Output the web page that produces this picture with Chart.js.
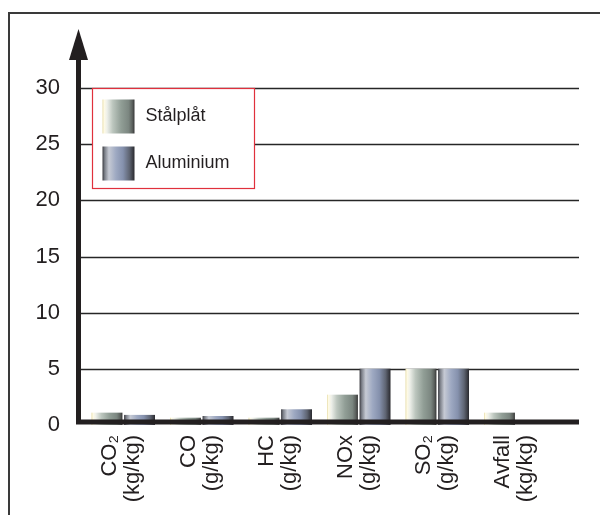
<!DOCTYPE html>
<html>
<head>
<meta charset="utf-8">
<script src="https://cdn.jsdelivr.net/npm/chart.js@4.4.1/dist/chart.umd.min.js"></script>
<style>
  body { margin: 0; background: #fff; }
  #wrap { position: relative; width: 600px; height: 515px; overflow: hidden; }
  #frame { position: absolute; left: 8px; top: 12px; width: 700px; height: 600px;
           border-top: 2px solid #3a3a3a; border-left: 2px solid #3a3a3a; }
  #chart { position: absolute; left: 0; top: 0; }
</style>
</head>
<body>
<div id="wrap">
  <div id="frame"></div>
  <canvas id="chart" width="600" height="515"></canvas>
</div>
<script>
// Data
const categories = [
  ['CO₂', '(kg/kg)'],
  ['CO', '(g/kg)'],
  ['HC', '(g/kg)'],
  ['NOx', '(g/kg)'],
  ['SO₂', '(g/kg)'],
  ['Avfall', '(kg/kg)']
];
const seriesNames = ['Stålplåt', 'Aluminium'];
const stalplat = [1.1, 0.65, 0.65, 2.7, 5, 1.1];
const aluminium = [0.9, 0.8, 1.4, 5, 5, 0];
const yTicks = [0, 5, 10, 15, 20, 25, 30];

const FONT = "'Liberation Sans', Arial, Helvetica, sans-serif";
Chart.defaults.font.family = FONT;
Chart.defaults.color = '#231f20';

// horizontal "metal" gradients for bars and legend swatches
const gradStops = [
  [[0, '#e6dca8'], [0.05, '#fffbe6'], [0.14, '#eef0ea'], [0.32, '#bcc6be'],
   [0.58, '#919e96'], [0.82, '#7b8680'], [0.93, '#5b605d'], [1, '#363636']],
  [[0, '#3a3a40'], [0.07, '#7c8089'], [0.2, '#c6cad4'], [0.42, '#9ea9c2'],
   [0.64, '#8591ad'], [0.84, '#5f6573'], [1, '#29292e']]
];
function metal(ctx, i, x0, x1) {
  const g = ctx.createLinearGradient(x0, 0, x1, 0);
  gradStops[i].forEach(s => g.addColorStop(s[0], s[1]));
  return g;
}

const decor = {
  id: 'decor',
  beforeDatasetsDraw(chart) {
    const ctx = chart.ctx;
    const y = chart.scales.y, area = chart.chartArea;
    // grid lines
    ctx.save();
    ctx.strokeStyle = '#262626';
    ctx.lineWidth = 1.3;
    yTicks.forEach(v => {
      if (v === 0) return;
      const py = Math.round(y.getPixelForValue(v)) + 0.5;
      ctx.beginPath();
      ctx.moveTo(area.left - 4, py);
      ctx.lineTo(area.right + 24, py);
      ctx.stroke();
    });
    ctx.restore();
    // bar gradients (each bar has its own options object)
    chart.data.datasets.forEach((ds, i) => {
      chart.getDatasetMeta(i).data.forEach(el => {
        el.options.backgroundColor = metal(ctx, i, el.x - el.width / 2, el.x + el.width / 2);
      });
    });
  },
  afterDatasetsDraw(chart) {
    const ctx = chart.ctx;
    const y = chart.scales.y, area = chart.chartArea;
    const ax = area.left - 5.5;
    const base = y.getPixelForValue(0) - 3;
    ctx.save();
    ctx.fillStyle = '#231f20';
    // x baseline
    ctx.fillRect(area.left - 8, base - 2.5, area.right - area.left + 32, 5);
    // y axis with arrow
    ctx.fillRect(ax - 2.5, area.top - 28, 5, base - area.top + 30);
    ctx.beginPath();
    ctx.moveTo(ax, area.top - 59);
    ctx.lineTo(ax + 9.5, area.top - 28);
    ctx.lineTo(ax - 9.5, area.top - 28);
    ctx.closePath();
    ctx.fill();
    ctx.restore();
  },
  afterDraw(chart) {
    const ctx = chart.ctx;
    const area = chart.chartArea;
    const bx = area.left + 8.5, by = area.top + 0.5, bw = 162, bh = 100;
    ctx.save();
    ctx.fillStyle = '#fff';
    ctx.fillRect(bx, by, bw, bh);
    ctx.strokeStyle = '#e0303c';
    ctx.lineWidth = 1.2;
    ctx.strokeRect(bx, by, bw, bh);
    ctx.font = '18px ' + FONT;
    ctx.textBaseline = 'middle';
    seriesNames.forEach((name, i) => {
      const sx = bx + 10, sy = by + 11 + i * 47;
      ctx.fillStyle = metal(ctx, i, sx, sx + 32);
      ctx.fillRect(sx, sy, 32, 34);
      ctx.fillStyle = '#231f20';
      ctx.fillText(name, sx + 43, sy + 17);
    });
    ctx.restore();
  }
};

new Chart(document.getElementById('chart'), {
  type: 'bar',
  data: {
    labels: categories,
    datasets: [
      { label: seriesNames[0], data: stalplat, backgroundColor: () => '#919e96' },
      { label: seriesNames[1], data: aluminium, backgroundColor: () => '#8591ad' }
    ]
  },
  options: {
    responsive: false,
    animation: false,
    events: [],
    layout: { padding: { left: 0, top: 88, right: 45, bottom: 0 } },
    datasets: { bar: { categoryPercentage: 0.83, barPercentage: 0.95 } },
    plugins: { legend: { display: false }, tooltip: { enabled: false } },
    scales: {
      x: {
        grid: { display: false, drawTicks: false },
        border: { display: false },
        ticks: {
          minRotation: 90, maxRotation: 90, padding: 10, labelOffset: -13,
          font: { size: 22, lineHeight: 1.05 }, color: '#231f20'
        },
        afterFit: s => { s.height = 90; }
      },
      y: {
        min: 0, max: 30,
        grid: { display: false, drawTicks: false },
        border: { display: false },
        afterBuildTicks: s => { s.ticks = yTicks.map(v => ({ value: v })); },
        ticks: { padding: 24, font: { size: 22 }, color: '#231f20' },
        afterFit: s => { s.width = 84; }
      }
    }
  },
  plugins: [decor]
});
</script>
</body>
</html>
